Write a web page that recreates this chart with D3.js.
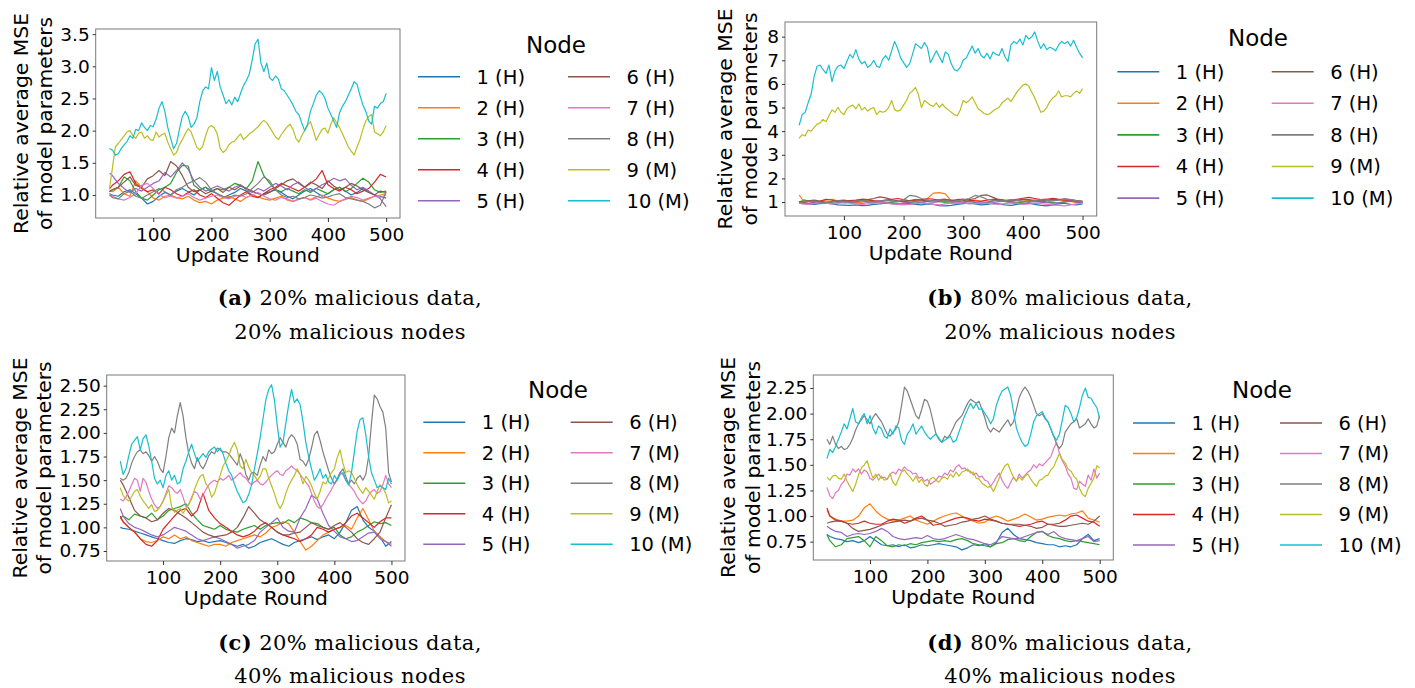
<!DOCTYPE html>
<html>
    <head>
        <title>node_mse</title>
        <script src="https://cdn.jsdelivr.net/npm/d3@7/dist/d3.min.js"></script>
    </head>
    <body style="margin: 0">
    <svg width="1415" height="688" id="mainsvg" style="background-color: #ffffff; display: block;"></svg>

    <script>
        // update rounds: malicious / highlighted nodes were read every 5 rounds, the rest every 10
        const roundsFine = d3.range(25, 501, 5);
        const roundsCoarse = [25].concat(d3.range(30, 501, 10));
        const xTicks = [100, 200, 300, 400, 500];

        const nodeColors = ['#1f77b4', '#ff7f0e', '#2ca02c', '#d62728', '#9467bd',
                            '#8c564b', '#e377c2', '#7f7f7f', '#bcbd22', '#17becf'];
        const labelsTwoM = ['1 (H)', '2 (H)', '3 (H)', '4 (H)', '5 (H)', '6 (H)', '7 (H)', '8 (H)', '9 (M)', '10 (M)'];
        const labelsFourM = ['1 (H)', '2 (H)', '3 (H)', '4 (H)', '5 (H)', '6 (H)', '7 (M)', '8 (M)', '9 (M)', '10 (M)'];

        const yTicksA = [1.0, 1.5, 2.0, 2.5, 3.0, 3.5];
        const yTicksB = [1, 2, 3, 4, 5, 6, 7, 8];
        const yTicksC = [0.75, 1.00, 1.25, 1.50, 1.75, 2.00, 2.25, 2.50];
        const yTicksD = [0.75, 1.00, 1.25, 1.50, 1.75, 2.00, 2.25];
        const yLimA = [0.642, 3.58];
        const yLimB = [0.41, 8.62];
        const yLimC = [0.644, 2.613];
        const yLimD = [0.571, 2.377];

        // ---- (a) 20% malicious data, 20% malicious nodes ----
        const pA1 = [1.02,1.00,0.98,1.05,1.08,1.02,0.95,0.86,0.90,0.98,
                    1.04,1.00,1.06,1.10,1.05,1.00,1.08,1.12,1.06,1.02,
                    0.96,1.00,1.04,1.10,1.06,1.00,0.96,1.02,1.05,1.08,
                    1.04,0.98,0.94,1.00,1.06,1.10,1.04,0.98,1.02,1.08,
                    1.12,1.06,1.00,1.04,1.10,1.05,1.00,0.98,0.95];
        const pA2 = [1.08,1.05,1.12,1.02,0.98,1.22,1.12,1.05,0.95,0.92,
                    0.98,1.00,0.96,0.94,0.98,0.92,0.88,0.90,0.86,0.92,
                    0.95,0.98,0.94,0.90,0.96,1.00,0.97,0.94,0.92,0.95,
                    0.98,0.92,0.90,0.94,0.96,0.93,0.97,1.00,0.95,0.92,
                    0.90,0.93,0.96,0.92,0.90,0.94,0.98,1.00,1.02];
        const pA3 = [1.05,1.08,1.12,1.28,1.22,1.05,0.95,0.92,1.00,1.08,
                    1.12,1.18,1.35,1.46,1.45,1.15,1.08,1.12,1.05,1.10,
                    1.08,1.12,1.18,1.15,1.10,1.22,1.52,1.30,1.18,1.08,
                    1.05,1.10,1.06,1.02,1.08,1.04,1.10,1.06,1.02,1.08,
                    1.12,1.05,1.10,1.18,1.26,1.20,1.08,1.04,1.06];
        const pA4 = [1.10,1.15,1.22,1.32,1.36,1.18,1.10,1.05,1.08,1.02,
                    1.12,1.08,1.02,0.98,1.04,1.08,1.00,0.96,1.02,0.95,
                    0.88,0.84,0.92,1.00,1.05,0.98,0.96,1.02,1.08,1.12,
                    1.18,1.14,1.10,1.06,1.12,1.18,1.25,1.38,1.16,1.10,
                    1.06,1.12,1.08,1.02,1.06,1.10,1.20,1.32,1.28];
        const pA5 = [1.34,1.30,1.18,1.10,1.04,1.10,1.06,1.12,1.18,1.22,
                    1.35,1.28,1.38,1.50,1.40,1.22,1.12,1.06,1.10,1.14,
                    1.10,1.06,1.12,1.16,1.08,1.04,1.10,1.06,1.12,1.18,
                    1.14,1.08,1.16,1.20,1.12,1.06,1.10,1.16,1.20,1.26,
                    1.22,1.25,1.15,1.08,1.12,1.06,1.00,0.94,0.82];
        const pA6 = [1.05,1.08,1.12,1.20,1.28,1.15,1.12,1.25,1.30,1.38,
                    1.30,1.52,1.45,1.30,1.12,1.05,1.08,1.02,1.06,1.10,
                    1.04,1.12,1.08,1.14,1.10,1.06,1.02,1.00,1.04,1.10,
                    1.16,1.22,1.25,1.18,1.12,1.20,1.16,1.10,1.22,1.14,
                    1.08,1.12,1.18,1.14,1.08,1.04,1.00,1.06,1.04];
        const pA7 = [1.02,0.98,0.94,0.92,0.96,1.02,1.15,1.18,1.10,1.00,
                    0.96,0.98,0.95,0.98,1.02,0.96,0.92,0.95,0.98,1.00,
                    0.96,0.94,0.98,1.00,0.96,1.00,1.04,0.98,0.94,0.92,
                    0.96,0.94,0.90,0.93,0.96,0.92,0.95,0.90,0.86,0.84,
                    0.90,0.94,0.98,0.96,0.92,0.95,0.98,0.96,1.00];
        const pA8 = [1.00,0.96,0.94,1.02,1.06,0.98,0.95,1.00,1.05,1.10,
                    1.05,1.00,1.08,1.12,1.18,1.22,1.27,1.20,1.08,1.02,
                    0.98,0.96,1.00,0.98,1.02,1.10,1.18,1.28,1.22,1.08,
                    1.00,0.96,0.98,0.94,0.96,1.00,0.98,0.95,0.97,1.00,
                    1.02,0.96,0.94,0.92,0.90,0.86,0.80,0.84,1.05];
        const pA9 = [1.10,1.42,1.75,1.80,1.86,1.92,1.98,2.00,1.92,1.88,
                    1.96,1.98,1.88,1.92,1.86,1.85,1.98,1.90,1.94,1.96,
                    1.82,1.72,1.62,1.66,1.78,1.86,1.95,2.03,1.98,1.86,
                    1.74,1.70,1.76,1.92,2.05,2.08,2.04,1.95,1.72,1.66,
                    1.70,1.78,1.82,1.84,1.90,1.95,1.86,1.90,1.95,1.98,
                    2.02,2.06,2.12,2.16,2.12,2.05,1.98,1.90,1.86,1.94,
                    2.00,2.06,2.10,2.02,1.88,1.82,1.92,2.00,2.08,2.14,
                    2.00,1.85,1.94,2.02,2.04,1.96,2.10,2.20,2.12,2.05,
                    1.95,1.85,1.75,1.68,1.62,1.75,1.86,2.02,2.15,2.22,
                    2.25,1.98,1.95,1.92,1.98,2.08];
        const pA10 = [1.72,1.70,1.62,1.64,1.72,1.78,1.83,1.92,1.88,2.02,
                     2.00,2.12,2.05,2.00,2.08,2.06,2.18,2.35,2.45,2.30,
                     2.05,1.88,1.72,1.80,2.02,2.22,2.30,2.22,2.05,2.10,
                     2.20,2.45,2.62,2.68,2.65,2.98,2.78,2.92,2.68,2.55,
                     2.42,2.48,2.40,2.52,2.45,2.58,2.70,2.78,2.88,3.10,
                     3.35,3.42,3.05,2.92,3.05,2.82,2.78,2.85,2.80,2.65,
                     2.62,2.55,2.48,2.40,2.30,2.25,2.12,2.00,2.10,2.30,
                     2.42,2.55,2.62,2.58,2.50,2.35,2.25,2.15,2.05,2.28,
                     2.38,2.45,2.55,2.65,2.76,2.72,2.55,2.40,2.30,2.15,
                     2.10,2.38,2.35,2.42,2.45,2.58];

        // ---- (b) 80% malicious data, 20% malicious nodes ----
        const pB1 = [0.95,0.94,0.92,0.90,0.93,0.95,0.92,0.88,0.87,0.86,
                    0.88,0.85,0.86,0.90,0.92,0.95,0.93,0.90,0.92,0.94,
                    0.90,0.88,0.92,0.90,0.85,0.84,0.86,0.90,0.93,0.95,
                    0.92,0.88,0.90,0.94,0.92,0.88,0.86,0.90,0.93,0.95,
                    0.90,0.86,0.84,0.88,0.92,0.95,0.90,0.88,0.92];
        const pB2 = [1.30,1.12,1.05,1.00,1.02,1.08,1.12,1.05,1.00,1.02,
                    0.98,1.00,1.04,1.02,1.00,0.98,1.02,1.05,1.00,0.98,
                    1.02,1.05,1.15,1.38,1.40,1.35,1.05,1.02,1.00,1.04,
                    1.08,1.02,0.98,1.05,1.12,1.08,1.02,1.00,1.04,1.08,
                    1.05,1.02,1.00,1.06,1.10,1.05,1.02,0.98,1.00];
        const pB3 = [1.00,1.05,1.04,1.02,0.98,0.96,1.00,1.02,0.98,1.00,
                    1.05,1.08,1.10,1.02,0.98,0.95,0.98,1.02,1.05,0.98,
                    0.95,1.00,1.04,1.06,1.02,0.98,0.95,0.97,1.00,1.04,
                    0.98,0.95,1.00,1.05,1.08,1.02,0.98,0.96,1.00,1.04,
                    1.08,1.05,1.00,0.98,0.96,1.00,1.04,1.02,0.98];
        const pB4 = [1.02,1.00,0.95,0.98,1.04,1.12,1.08,1.02,1.04,1.06,
                    1.08,1.12,1.10,1.06,1.04,1.08,1.12,1.15,1.10,1.05,
                    1.08,1.10,1.14,1.12,1.08,1.04,1.06,1.10,1.12,1.08,
                    1.05,1.04,1.08,1.12,1.10,1.06,1.08,1.12,1.16,1.20,
                    1.15,1.10,1.12,1.16,1.12,1.08,1.06,1.04,1.02];
        const pB5 = [0.98,0.96,0.94,0.97,1.00,0.96,0.94,0.98,1.02,1.00,
                    0.96,0.94,0.98,1.02,1.04,1.00,0.96,0.94,0.96,1.00,
                    1.02,0.98,0.95,0.98,1.02,1.05,1.00,0.96,0.98,1.02,
                    1.00,0.97,0.95,0.98,1.02,1.04,1.00,0.96,0.94,0.98,
                    1.02,1.00,0.97,0.95,0.98,1.02,1.05,1.00,0.98];
        const pB6 = [1.00,1.02,1.05,1.08,1.04,1.00,1.02,1.06,1.08,1.04,
                    1.02,1.06,1.10,1.15,1.22,1.18,1.10,1.05,1.02,1.06,
                    1.10,1.08,1.04,1.06,1.10,1.12,1.08,1.04,1.06,1.10,
                    1.15,1.28,1.30,1.20,1.10,1.06,1.04,1.08,1.12,1.10,
                    1.06,1.04,1.08,1.12,1.10,1.14,1.10,1.06,1.04];
        const pB7 = [0.95,0.92,0.90,0.94,0.97,0.95,0.92,0.94,0.97,0.95,
                    0.92,0.90,0.92,0.95,0.98,0.96,0.92,0.90,0.88,0.90,
                    0.93,0.96,0.94,0.90,0.88,0.92,0.95,0.98,0.96,0.92,
                    0.94,0.97,0.95,0.92,0.90,0.93,0.96,0.94,0.90,0.92,
                    0.95,0.93,0.90,0.88,0.86,0.84,0.88,0.92,0.95];
        const pB8 = [0.98,1.00,1.02,1.04,1.00,0.98,1.02,1.05,1.02,1.00,
                    1.04,1.06,1.02,1.00,1.04,1.08,1.06,1.02,1.10,1.28,
                    1.25,1.15,1.08,1.05,1.10,1.06,1.02,1.05,1.10,1.15,
                    1.28,1.22,1.12,1.08,1.04,1.06,1.10,1.08,1.04,1.02,
                    1.06,1.10,1.08,1.05,1.08,1.12,1.10,1.06,1.02];
        const pB9 = [3.70,3.85,3.80,4.05,4.00,4.15,4.30,4.35,4.50,4.40,
                    4.65,4.90,4.80,5.00,4.80,4.70,4.95,5.05,5.10,4.95,
                    5.15,4.90,5.00,4.85,4.95,5.00,4.70,4.85,4.80,4.85,
                    5.00,5.30,4.90,4.85,4.90,5.10,5.30,5.60,5.70,5.85,
                    5.55,5.00,5.30,5.20,5.10,5.05,5.20,5.00,5.15,5.00,
                    4.90,4.80,4.70,4.65,4.90,5.30,5.20,5.30,5.45,5.20,
                    4.95,4.85,4.75,4.70,4.75,4.85,4.95,5.00,5.20,5.30,
                    5.40,5.25,5.45,5.65,5.80,5.95,6.00,5.90,5.65,5.40,
                    5.10,4.80,4.85,5.00,5.25,5.40,5.50,5.70,5.45,5.50,
                    5.50,5.45,5.60,5.70,5.60,5.80];
        const pB10 = [4.25,4.70,4.80,5.20,5.55,6.30,6.75,6.80,6.60,6.45,
                     6.80,6.10,6.55,6.75,6.80,6.65,6.95,7.25,7.10,7.45,
                     7.05,6.85,6.95,6.70,6.80,7.00,6.75,6.70,7.05,7.20,
                     7.00,7.40,7.80,7.50,7.10,6.90,6.70,6.85,7.25,7.70,
                     7.60,7.50,7.75,7.55,6.90,7.15,7.40,7.15,6.90,7.35,
                     7.25,6.85,6.60,6.55,6.70,7.00,7.10,7.35,7.60,7.30,
                     7.50,7.20,7.10,7.30,7.05,7.35,7.25,7.20,7.50,7.15,
                     6.95,7.65,7.80,7.70,7.90,7.65,8.05,7.90,8.00,8.20,
                     7.80,7.50,7.70,7.45,7.55,7.50,7.40,7.65,7.80,7.70,
                     7.80,7.60,7.85,7.55,7.30,7.10];

        // ---- (c) 20% malicious data, 40% malicious nodes ----
        const pC1 = [1.00,0.99,0.98,0.96,0.94,0.92,0.90,0.88,0.86,0.84,
                    0.83,0.86,0.88,0.87,0.85,0.86,0.84,0.85,0.86,0.84,
                    0.82,0.80,0.82,0.78,0.80,0.84,0.86,0.88,0.85,0.82,
                    0.80,0.84,0.86,0.88,0.90,0.87,0.90,0.92,0.88,0.95,
                    1.05,1.18,1.22,1.08,1.00,0.96,0.90,0.80,0.85];
        const pC2 = [1.10,1.06,1.00,0.95,0.88,0.85,0.84,0.86,0.90,0.88,
                    0.92,0.88,0.90,0.86,0.84,0.82,0.80,0.82,0.82,0.80,
                    0.84,0.86,0.88,0.90,0.92,0.90,0.94,1.00,1.02,1.06,
                    1.04,0.95,0.85,0.76,0.80,0.86,0.92,0.95,0.98,1.00,
                    1.02,0.98,1.10,1.20,1.08,0.96,0.90,0.85,0.82];
        const pC3 = [1.10,1.12,1.08,1.14,1.12,1.10,1.15,1.08,1.12,1.18,
                    1.20,1.22,1.25,1.15,1.08,1.02,1.00,0.98,1.02,0.98,
                    0.96,0.95,0.98,1.00,1.02,0.98,1.02,1.04,1.05,1.04,
                    1.08,1.05,1.10,1.08,1.05,1.04,1.00,0.98,1.00,0.92,
                    0.88,0.90,0.95,0.98,1.02,1.06,1.04,1.05,1.02];
        const pC4 = [1.12,1.06,1.00,0.95,0.88,0.82,0.80,0.86,0.98,1.05,
                    1.12,1.18,1.20,1.12,1.18,1.36,1.18,1.10,1.04,1.00,
                    0.96,0.92,0.90,0.92,0.96,1.02,1.05,1.00,0.95,0.92,
                    0.90,0.88,0.85,0.88,0.92,1.00,0.98,0.95,0.98,1.00,
                    1.05,1.12,1.15,1.10,1.05,1.00,1.06,1.10,1.10];
        const pC5 = [1.20,1.12,1.04,1.00,0.98,0.95,0.92,0.90,0.92,0.96,
                    1.00,0.98,0.96,0.92,0.88,0.86,0.88,0.90,0.88,0.85,
                    0.82,0.78,0.80,0.82,0.86,0.95,1.00,1.05,1.10,1.00,
                    0.96,0.95,1.10,1.20,1.34,1.30,1.15,1.02,0.96,0.90,
                    0.88,0.85,0.86,0.90,0.94,0.95,0.88,0.85,0.80];
        const pC6 = [1.50,1.45,1.32,1.18,1.12,1.10,1.06,1.08,1.15,1.20,
                    1.18,1.14,1.10,1.05,1.00,0.95,0.92,0.90,0.91,0.92,
                    0.95,1.00,1.10,1.22,1.15,1.08,1.04,1.00,0.95,0.92,
                    0.92,0.94,0.95,1.00,1.05,1.02,1.00,0.98,1.02,1.05,
                    1.00,0.95,0.88,0.84,0.82,0.88,0.95,1.10,1.24];
        const pC7 = [1.30,1.28,1.32,1.38,1.45,1.52,1.50,1.38,1.52,1.48,
                    1.38,1.30,1.24,1.20,1.22,1.28,1.36,1.44,1.42,1.38,
                    1.36,1.40,1.32,1.22,1.24,1.32,1.38,1.36,1.30,1.34,
                    1.40,1.45,1.48,1.50,1.48,1.52,1.50,1.52,1.55,1.50,
                    1.52,1.55,1.58,1.54,1.52,1.48,1.45,1.48,1.50,1.46,
                    1.45,1.48,1.52,1.55,1.58,1.60,1.56,1.55,1.60,1.62,
                    1.65,1.62,1.60,1.56,1.52,1.48,1.44,1.36,1.28,1.22,
                    1.20,1.24,1.30,1.35,1.40,1.46,1.52,1.58,1.56,1.50,
                    1.46,1.42,1.38,1.32,1.28,1.25,1.28,1.34,1.38,1.40,
                    1.36,1.38,1.45,1.55,1.46,1.42];
        const pC8 = [1.52,1.50,1.52,1.58,1.68,1.75,1.80,1.82,1.78,1.80,
                    1.76,1.70,1.75,1.70,1.62,1.58,1.75,1.95,2.05,2.00,
                    2.18,2.32,2.18,1.95,1.78,1.68,1.62,1.74,1.66,1.62,
                    1.68,1.76,1.80,1.78,1.84,1.82,1.80,1.80,1.78,1.74,
                    1.70,1.66,1.78,1.70,1.56,1.50,1.58,1.58,1.55,1.66,
                    1.75,1.70,1.82,1.78,1.80,1.88,1.95,1.90,1.85,1.94,
                    1.98,1.95,1.88,1.72,1.70,1.65,1.72,1.84,1.98,2.02,
                    1.92,1.80,1.70,1.60,1.52,1.46,1.50,1.58,1.62,1.54,
                    1.46,1.50,1.46,1.52,1.55,1.50,1.56,1.75,2.10,2.40,
                    2.36,2.28,2.22,2.05,1.58,1.48];
        const pC9 = [1.42,1.34,1.30,1.28,1.33,1.38,1.40,1.33,1.28,1.24,
                    1.20,1.24,1.17,1.18,1.22,1.28,1.34,1.40,1.22,1.16,
                    1.18,1.20,1.15,1.20,1.25,1.30,1.40,1.48,1.54,1.56,
                    1.46,1.42,1.32,1.36,1.46,1.55,1.65,1.70,1.76,1.84,
                    1.90,1.82,1.65,1.62,1.72,1.64,1.58,1.55,1.50,1.54,
                    1.62,1.62,1.52,1.44,1.36,1.26,1.20,1.26,1.36,1.44,
                    1.50,1.55,1.62,1.56,1.46,1.54,1.50,1.44,1.36,1.30,
                    1.38,1.48,1.46,1.52,1.58,1.62,1.74,1.82,1.68,1.58,
                    1.60,1.58,1.52,1.45,1.40,1.36,1.42,1.38,1.34,1.30,
                    1.38,1.45,1.42,1.36,1.26,1.28];
        const pC10 = [1.70,1.56,1.62,1.76,1.88,1.92,1.96,1.82,1.94,1.98,
                     1.86,1.70,1.52,1.46,1.50,1.42,1.55,1.60,1.50,1.55,
                     1.46,1.48,1.62,1.70,1.80,1.88,1.78,1.70,1.74,1.78,
                     1.74,1.80,1.83,1.85,1.80,1.84,1.78,1.68,1.60,1.55,
                     1.46,1.38,1.32,1.26,1.28,1.35,1.45,1.62,1.78,1.95,
                     2.15,2.35,2.46,2.51,2.35,2.08,1.85,1.90,2.10,2.30,
                     2.46,2.32,2.36,2.30,2.12,1.90,1.75,1.62,1.50,1.55,
                     1.62,1.52,1.56,1.48,1.46,1.55,1.50,1.56,1.58,1.50,
                     1.45,1.58,1.80,2.02,2.14,2.16,1.98,1.75,1.58,1.50,
                     1.42,1.44,1.42,1.40,1.52,1.46];

        // ---- (d) 80% malicious data, 40% malicious nodes ----
        const pD1 = [0.82,0.80,0.78,0.77,0.75,0.76,0.74,0.76,0.80,0.76,
                    0.72,0.71,0.72,0.70,0.72,0.69,0.70,0.72,0.71,0.72,
                    0.73,0.72,0.71,0.70,0.67,0.69,0.72,0.71,0.73,0.70,
                    0.74,0.84,0.88,0.82,0.78,0.77,0.76,0.74,0.73,0.72,
                    0.72,0.70,0.71,0.70,0.72,0.78,0.82,0.76,0.78];
        const pD2 = [1.06,1.00,0.97,0.95,0.95,0.96,1.00,1.08,1.12,1.05,
                    1.00,0.97,0.95,0.96,0.98,1.00,0.96,0.94,0.92,0.95,
                    0.98,1.00,1.02,1.03,1.00,0.97,0.95,0.93,0.94,0.98,
                    1.00,0.98,0.95,0.97,0.99,1.02,0.99,0.96,0.97,0.99,
                    1.00,1.01,1.00,1.02,1.03,1.05,0.98,0.96,0.94];
        const pD3 = [0.82,0.76,0.70,0.72,0.78,0.79,0.80,0.76,0.70,0.80,
                    0.76,0.71,0.70,0.72,0.71,0.73,0.72,0.74,0.75,0.76,
                    0.75,0.76,0.75,0.77,0.78,0.76,0.73,0.72,0.71,0.70,
                    0.73,0.74,0.77,0.78,0.76,0.75,0.80,0.84,0.85,0.81,
                    0.79,0.78,0.76,0.75,0.76,0.75,0.74,0.73,0.72];
        const pD4 = [1.08,1.00,0.96,0.95,0.93,0.92,0.93,0.95,0.93,0.92,
                    0.92,0.95,0.97,0.96,0.93,0.95,0.98,1.00,0.96,0.91,
                    0.92,0.94,0.96,0.98,0.99,0.98,0.96,0.95,0.97,0.96,
                    0.95,0.93,0.92,0.91,0.90,0.91,0.92,0.94,0.95,0.92,
                    0.92,0.93,0.96,1.00,1.01,0.98,0.95,0.94,0.90];
        const pD5 = [0.90,0.88,0.85,0.84,0.80,0.82,0.83,0.82,0.83,0.85,
                    0.88,0.85,0.80,0.78,0.77,0.78,0.79,0.78,0.81,0.78,
                    0.77,0.78,0.80,0.82,0.80,0.78,0.77,0.75,0.73,0.72,
                    0.75,0.80,0.79,0.78,0.78,0.80,0.82,0.84,0.85,0.82,
                    0.85,0.80,0.78,0.77,0.76,0.78,0.80,0.75,0.76];
        const pD6 = [0.93,0.94,0.95,0.95,0.93,0.88,0.85,0.86,0.87,0.89,
                    0.91,0.93,0.94,0.95,0.96,0.95,0.97,0.98,0.96,0.95,
                    0.93,0.90,0.91,0.92,0.94,0.95,0.97,0.98,1.00,0.97,
                    0.95,0.93,0.92,0.92,0.92,0.91,0.90,0.88,0.89,0.92,
                    0.91,0.90,0.90,0.91,0.92,0.93,0.92,0.95,1.00];
        const pD7 = [1.28,1.20,1.17,1.23,1.25,1.31,1.34,1.41,1.40,1.46,
                    1.43,1.46,1.41,1.45,1.43,1.37,1.35,1.38,1.41,1.37,
                    1.38,1.36,1.41,1.43,1.41,1.46,1.44,1.48,1.45,1.44,
                    1.41,1.42,1.37,1.38,1.34,1.36,1.31,1.33,1.35,1.39,
                    1.38,1.42,1.40,1.45,1.43,1.48,1.50,1.46,1.47,1.44,
                    1.44,1.40,1.42,1.38,1.39,1.35,1.34,1.29,1.33,1.38,
                    1.42,1.35,1.30,1.27,1.33,1.38,1.34,1.41,1.37,1.40,
                    1.43,1.45,1.50,1.47,1.51,1.49,1.52,1.55,1.58,1.66,
                    1.72,1.61,1.54,1.49,1.41,1.37,1.27,1.26,1.34,1.31,
                    1.29,1.40,1.35,1.46,1.37,1.42];
        const pD8 = [1.75,1.70,1.78,1.70,1.66,1.68,1.65,1.66,1.70,1.76,
                    1.84,1.90,1.94,1.98,1.94,1.90,1.96,2.00,1.96,1.92,
                    1.86,1.80,1.78,1.82,1.85,1.92,2.08,2.26,2.22,2.14,
                    2.06,1.98,1.95,2.04,2.14,2.12,2.04,1.92,1.80,1.75,
                    1.72,1.78,1.76,1.80,1.86,1.92,1.95,1.98,2.04,2.10,
                    2.14,2.12,2.10,2.12,2.04,1.96,1.86,1.82,1.86,1.84,
                    1.82,1.86,1.90,1.94,1.88,1.92,2.04,2.16,2.22,2.26,
                    2.22,2.16,2.08,2.00,1.98,2.00,1.95,1.92,1.85,1.78,
                    1.70,1.66,1.70,1.82,1.86,1.90,1.92,1.95,1.86,1.88,
                    1.90,1.95,1.90,1.86,1.88,1.98];
        const pD9 = [1.38,1.35,1.39,1.40,1.37,1.36,1.41,1.34,1.29,1.24,
                    1.31,1.40,1.47,1.50,1.54,1.45,1.37,1.41,1.35,1.39,
                    1.35,1.36,1.41,1.33,1.30,1.37,1.43,1.45,1.41,1.38,
                    1.34,1.39,1.33,1.36,1.31,1.29,1.36,1.38,1.35,1.33,
                    1.37,1.38,1.36,1.41,1.38,1.43,1.39,1.43,1.44,1.46,
                    1.42,1.43,1.37,1.36,1.32,1.30,1.28,1.29,1.24,1.30,
                    1.37,1.44,1.49,1.51,1.44,1.38,1.34,1.38,1.35,1.39,
                    1.41,1.36,1.32,1.29,1.35,1.36,1.39,1.40,1.45,1.48,
                    1.55,1.61,1.55,1.52,1.46,1.44,1.39,1.36,1.27,1.21,
                    1.19,1.27,1.32,1.37,1.49,1.47];
        const pD10 = [1.56,1.65,1.62,1.68,1.75,1.82,1.90,1.85,1.95,2.05,
                     1.92,1.90,1.96,2.00,1.90,1.98,1.86,1.80,1.88,1.85,
                     1.78,1.76,1.85,1.80,1.88,1.86,1.74,1.70,1.80,1.84,
                     1.90,1.80,1.84,1.88,1.82,1.78,1.75,1.78,1.80,1.76,
                     1.72,1.74,1.76,1.78,1.72,1.74,1.82,1.90,1.98,2.04,
                     2.10,2.05,2.10,2.04,2.05,2.00,1.96,1.90,1.95,2.08,
                     2.16,2.22,2.24,2.26,2.18,2.02,1.86,1.78,1.72,1.68,
                     1.70,1.80,1.92,1.98,2.00,2.02,1.96,1.92,1.85,1.78,
                     1.74,1.80,1.94,2.08,2.06,2.00,1.92,1.96,2.06,2.18,
                     2.25,2.16,2.15,2.10,2.06,1.95];

        const svg = d3.select('#mainsvg');
        const sans = 'DejaVu Sans, Verdana, sans-serif';
        const serif = 'DejaVu Serif, Georgia, serif';

        const panels = [
            {series: [pA1, pA2, pA3, pA4, pA5, pA6, pA7, pA8, pA9, pA10], labels: labelsTwoM,
             yTicks: yTicksA, yFmt: '.1f', yLim: yLimA,
             tag: '(a)', cap1: ' 20% malicious data,', cap2: '20% malicious nodes',
             box: {x0: 95.7, x1: 400, y0: 29, y1: 218}, yLab: [21, 45],
             leg: {tx: 556, ty: 45, row0: 76.7, step: 31, hx: [418, 568]},
             capX: 350, capY: [304.5, 338.5]},
            {series: [pB1, pB2, pB3, pB4, pB5, pB6, pB7, pB8, pB9, pB10], labels: labelsTwoM,
             yTicks: yTicksB, yFmt: 'd', yLim: yLimB,
             tag: '(b)', cap1: ' 80% malicious data,', cap2: '20% malicious nodes',
             box: {x0: 785, x1: 1096.7, y0: 22, y1: 216}, yLab: [725, 750],
             leg: {tx: 1258, ty: 38.3, row0: 71.7, step: 31.6, hx: [1117.3, 1271.7]},
             capX: 1060, capY: [304.5, 338.5]},
            {series: [pC1, pC2, pC3, pC4, pC5, pC6, pC7, pC8, pC9, pC10], labels: labelsFourM,
             yTicks: yTicksC, yFmt: '.2f', yLim: yLimC,
             tag: '(c)', cap1: ' 20% malicious data,', cap2: '40% malicious nodes',
             box: {x0: 106.7, x1: 405, y0: 375, y1: 561}, yLab: [20, 44],
             leg: {tx: 558, ty: 390, row0: 422.3, step: 30.5, hx: [423.3, 570.7]},
             capX: 350, capY: [649.5, 682.5]},
            {series: [pD1, pD2, pD3, pD4, pD5, pD6, pD7, pD8, pD9, pD10], labels: labelsFourM,
             yTicks: yTicksD, yFmt: '.2f', yLim: yLimD,
             tag: '(d)', cap1: ' 80% malicious data,', cap2: '40% malicious nodes',
             box: {x0: 813.3, x1: 1113.3, y0: 375, y1: 560}, yLab: [728, 753],
             leg: {tx: 1262, ty: 390, row0: 423, step: 30.5, hx: [1133, 1280]},
             capX: 1060, capY: [649.5, 682.5]}
        ];

        // matplotlib-like 5% margin on the round axis
        const [r0, r1] = d3.extent(roundsFine);
        const pad = (r1 - r0) * 0.05;

        panels.forEach(p => {
            const b = p.box;
            const xScale = d3.scaleLinear().domain([r0 - pad, r1 + pad]).range([b.x0, b.x1]);
            const yScale = d3.scaleLinear().domain(p.yLim).range([b.y1, b.y0]);
            const g = svg.append('g');

            const line = d3.line().x(d => xScale(d[0])).y(d => yScale(d[1]));
            p.series.forEach((vals, i) => {
                const rs = vals.length === roundsFine.length ? roundsFine : roundsCoarse;
                if (vals.length !== rs.length) console.warn('length mismatch', p.tag, i + 1, vals.length);
                const pts = vals.slice(0, rs.length).map((v, k) => [rs[k], v]);
                g.append('path').datum(pts)
                    .attr('d', line)
                    .attr('fill', 'none')
                    .attr('stroke', nodeColors[i])
                    .attr('stroke-width', 1.2)
                    .attr('stroke-linejoin', 'round');
            });

            g.append('rect')
                .attr('x', b.x0).attr('y', b.y0)
                .attr('width', b.x1 - b.x0).attr('height', b.y1 - b.y0)
                .attr('fill', 'none').attr('stroke', '#7a7a7a').attr('stroke-width', 1);

            const xAxis = g.append('g').attr('transform', `translate(0,${b.y1})`)
                .call(d3.axisBottom(xScale).tickValues(xTicks).tickSize(4).tickPadding(6).tickSizeOuter(0));
            const yAxis = g.append('g').attr('transform', `translate(${b.x0},0)`)
                .call(d3.axisLeft(yScale).tickValues(p.yTicks).tickFormat(d3.format(p.yFmt))
                    .tickSize(3).tickPadding(3).tickSizeOuter(0));
            [xAxis, yAxis].forEach(ax => {
                ax.select('.domain').remove();
                ax.selectAll('text').attr('font-family', sans).attr('font-size', '18.5px').attr('fill', '#000');
                ax.selectAll('line').attr('stroke', '#333');
            });

            g.append('text')
                .attr('x', (b.x0 + b.x1) / 2).attr('y', b.y1 + 44)
                .attr('text-anchor', 'middle')
                .attr('font-family', sans).attr('font-size', '20.3px')
                .text('Update Round');

            const cy = (b.y0 + b.y1) / 2;
            ['Relative average MSE', 'of model parameters'].forEach((t, k) => {
                g.append('text')
                    .attr('transform', `translate(${p.yLab[k]},${cy}) rotate(-90)`)
                    .attr('text-anchor', 'middle')
                    .attr('dy', '0.35em')
                    .attr('font-family', sans).attr('font-size', '20.3px')
                    .text(t);
            });

            // legend
            const L = p.leg;
            g.append('text')
                .attr('x', L.tx).attr('y', L.ty).attr('dy', '0.35em')
                .attr('text-anchor', 'middle')
                .attr('font-family', sans).attr('font-size', '23px')
                .text('Node');
            const items = g.selectAll('.legend').data(p.labels).join('g')
                .attr('class', 'legend')
                .attr('transform', (d, i) => `translate(${L.hx[Math.floor(i / 5)]},${L.row0 + (i % 5) * L.step})`);
            items.append('line')
                .attr('x1', 0).attr('x2', 42).attr('y1', 0).attr('y2', 0)
                .attr('stroke', (d, i) => nodeColors[i]).attr('stroke-width', 1.6);
            items.append('text')
                .attr('x', 58.5).attr('y', 0).attr('dy', '0.35em')
                .attr('font-family', sans).attr('font-size', '19.5px')
                .text(d => d);

            // caption
            const cap = g.append('text')
                .attr('x', p.capX).attr('y', p.capY[0])
                .attr('text-anchor', 'middle')
                .attr('font-family', serif).attr('font-size', '21px')
                .attr('letter-spacing', '0.4px');
            cap.append('tspan').attr('font-weight', 'bold').text(p.tag);
            cap.append('tspan').text(p.cap1);
            g.append('text')
                .attr('x', p.capX).attr('y', p.capY[1])
                .attr('text-anchor', 'middle')
                .attr('font-family', serif).attr('font-size', '21px')
                .attr('letter-spacing', '0.4px')
                .text(p.cap2);
        });
    </script>
    </body>
</html>
